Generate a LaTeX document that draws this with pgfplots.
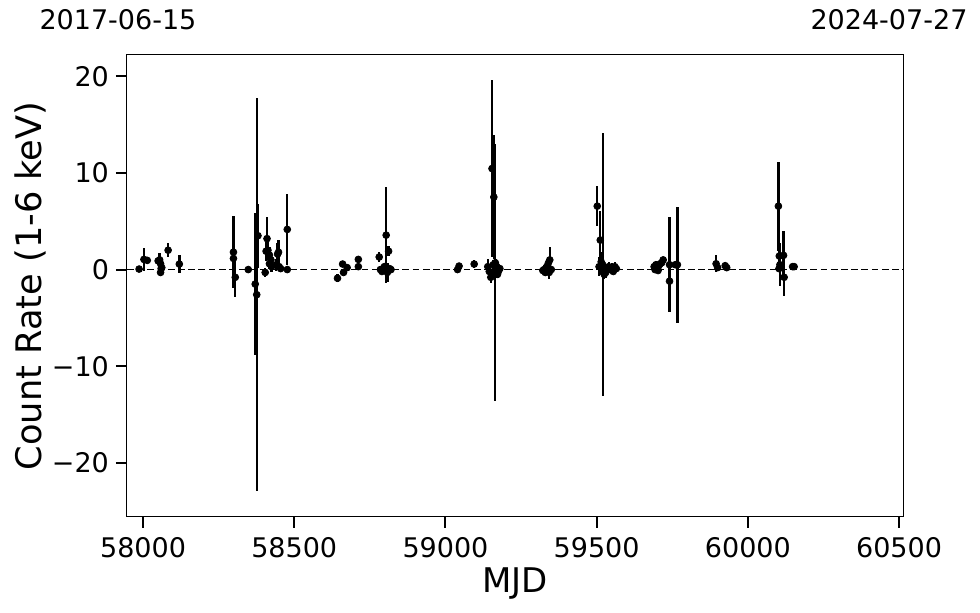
\documentclass[border=0pt]{standalone}
\usepackage{fontspec}
\setmainfont{DejaVu Sans}
\usepackage{pgfplots}
\usepackage{pgfplotstable}
\pgfplotsset{compat=1.18}
\pgfplotstableread{
x y ey
57987 0.05 0.2
58003 1.05 1.15
58014 0.95 0.25
58050 0.9 0.4
58055 1.0 0.7
58058 0.6 0.3
58060 0.1 0.3
58058 -0.3 0.4
58062 0.2 0.3
58083 2.0 0.7
58120 0.57 0.9
58299 1.8 3.7
58299 1.15 0.5
58305 -0.8 2.0
58348 0.0 0.2
58371 -1.5 7.3
58376 -2.6 20.3
58380 3.5 3.3
58404 -0.3 0.5
58407 1.9 1.0
58410 3.2 2.2
58413 2.0 1.0
58418 1.5 0.8
58423 1.0 0.6
58425 0.3 0.6
58418 0.6 0.5
58440 0.5 0.6
58445 1.6 1.1
58448 1.8 1.3
58450 0.3 0.5
58455 0.1 0.4
58477 4.15 3.7
58477 0.0 0.2
58643 -0.9 0.4
58660 0.57 0.2
58663 -0.3 0.3
58675 0.2 0.2
58712 1.05 0.2
58712 0.3 0.2
58781 1.3 0.5
58785 0.0 0.2
58790 -0.2 0.3
58795 0.1 0.3
58798 0.3 0.2
58800 0.2 0.3
58804 3.56 5.0
58806 0.0 0.5
58808 -0.3 1.0
58812 1.9 0.5
58815 0.1 0.2
58820 0.0 0.2
59040 0.0 0.2
59045 0.36 0.2
59095 0.57 0.4
59140 0.3 0.8
59145 -0.2 0.4
59150 -0.8 0.6
59154 10.45 9.2
59158 0.5 0.5
59160 7.5 6.4
59163 -0.3 13.3
59165 0.7 0.4
59168 0.0 0.5
59170 0.3 0.4
59172 -0.5 0.4
59175 -0.2 0.4
59180 0.1 0.3
59322 -0.1 0.2
59326 0.0 0.5
59330 -0.3 0.4
59335 0.3 0.6
59340 0.65 0.5
59343 -0.3 0.7
59345 1.0 1.3
59350 0.0 0.3
59502 6.56 2.1
59508 0.3 1.0
59512 3.05 3.0
59515 0.8 1.0
59518 -0.2 0.5
59520 0.5 13.6
59525 -0.5 0.5
59530 -0.3 0.6
59535 0.1 0.4
59540 0.3 0.5
59545 0.0 0.4
59550 0.2 0.5
59555 -0.2 0.3
59560 0.3 0.5
59565 0.1 0.4
59690 0.3 0.2
59693 0.0 0.2
59696 0.5 0.2
59700 0.2 0.3
59703 -0.1 0.3
59706 0.4 0.2
59710 0.6 0.3
59715 0.7 0.3
59720 1.0 0.3
59741 0.5 4.9
59741 -1.2 0.3
59760 0.5 0.3
59767 0.5 6.0
59895 0.6 0.9
59900 0.2 0.3
59925 0.4 0.3
59930 0.2 0.3
60101 6.56 4.6
60103 0.1 0.3
60104 1.4 1.3
60106 0.5 2.2
60118 1.47 2.5
60120 -0.8 1.9
60148 0.3 0.2
60153 0.3 0.2
}\datatable
\pgfplotstableread{
x y
57947 0
60513 0
}\zeroline
\begin{document}
\begin{tikzpicture}
\useasboundingbox (-63.5pt,-48pt) rectangle (426.5pt,258.5pt);
\begin{axis}[
  at={(0,0)}, anchor=south west,
  scale only axis, width=388pt, height=231pt,
  xmin=57947, xmax=60513, ymin=-25.6, ymax=22.2,
  scaled x ticks=false, scaled y ticks=false,
  axis line style={line width=0.5pt},
  xtick={58000,58500,59000,59500,60000,60500},
  xticklabels={58000,58500,59000,59500,60000,60500},
  ytick={-20,-10,0,10,20},
  yticklabels={−20,−10,0,10,20},
  xtick pos=left, ytick pos=left,
  tick align=outside,
  major tick length=5.5pt,
  every tick/.style={black, line width=1pt},
  minor tick num=0,
  tick label style={font=\fontsize{13.5}{16}\selectfont},
  xticklabel style={yshift=-1pt},
  xlabel={MJD},
  ylabel={Count Rate (1-6 keV)},
  xlabel style={font=\fontsize{17}{20}\selectfont, at={(axis description cs:0.5,-0.1429)}, anchor=center},
  ylabel style={font=\fontsize{17.6}{20}\selectfont, at={(axis description cs:-0.125,0.5)}, anchor=center},
  clip=true,
]
\addplot[black, line width=0.9pt, dash pattern=on 3.4pt off 1.7pt] table[x=x,y=y] {\zeroline};
\addplot[only marks, mark=*, mark size=1.7pt, black,
  error bars/.cd, y dir=both, y explicit, error mark=none,
  error bar style={line width=1.2pt, black}]
  table[x=x, y=y, y error=ey] {\datatable};
\end{axis}
\node[font=\fontsize{13.5}{16}\selectfont, anchor=center] at (-4.5pt,248.5pt) {2017-06-15};
\node[font=\fontsize{13.5}{16}\selectfont, anchor=center] at (381pt,248.5pt) {2024-07-27};
\end{tikzpicture}
\end{document}
